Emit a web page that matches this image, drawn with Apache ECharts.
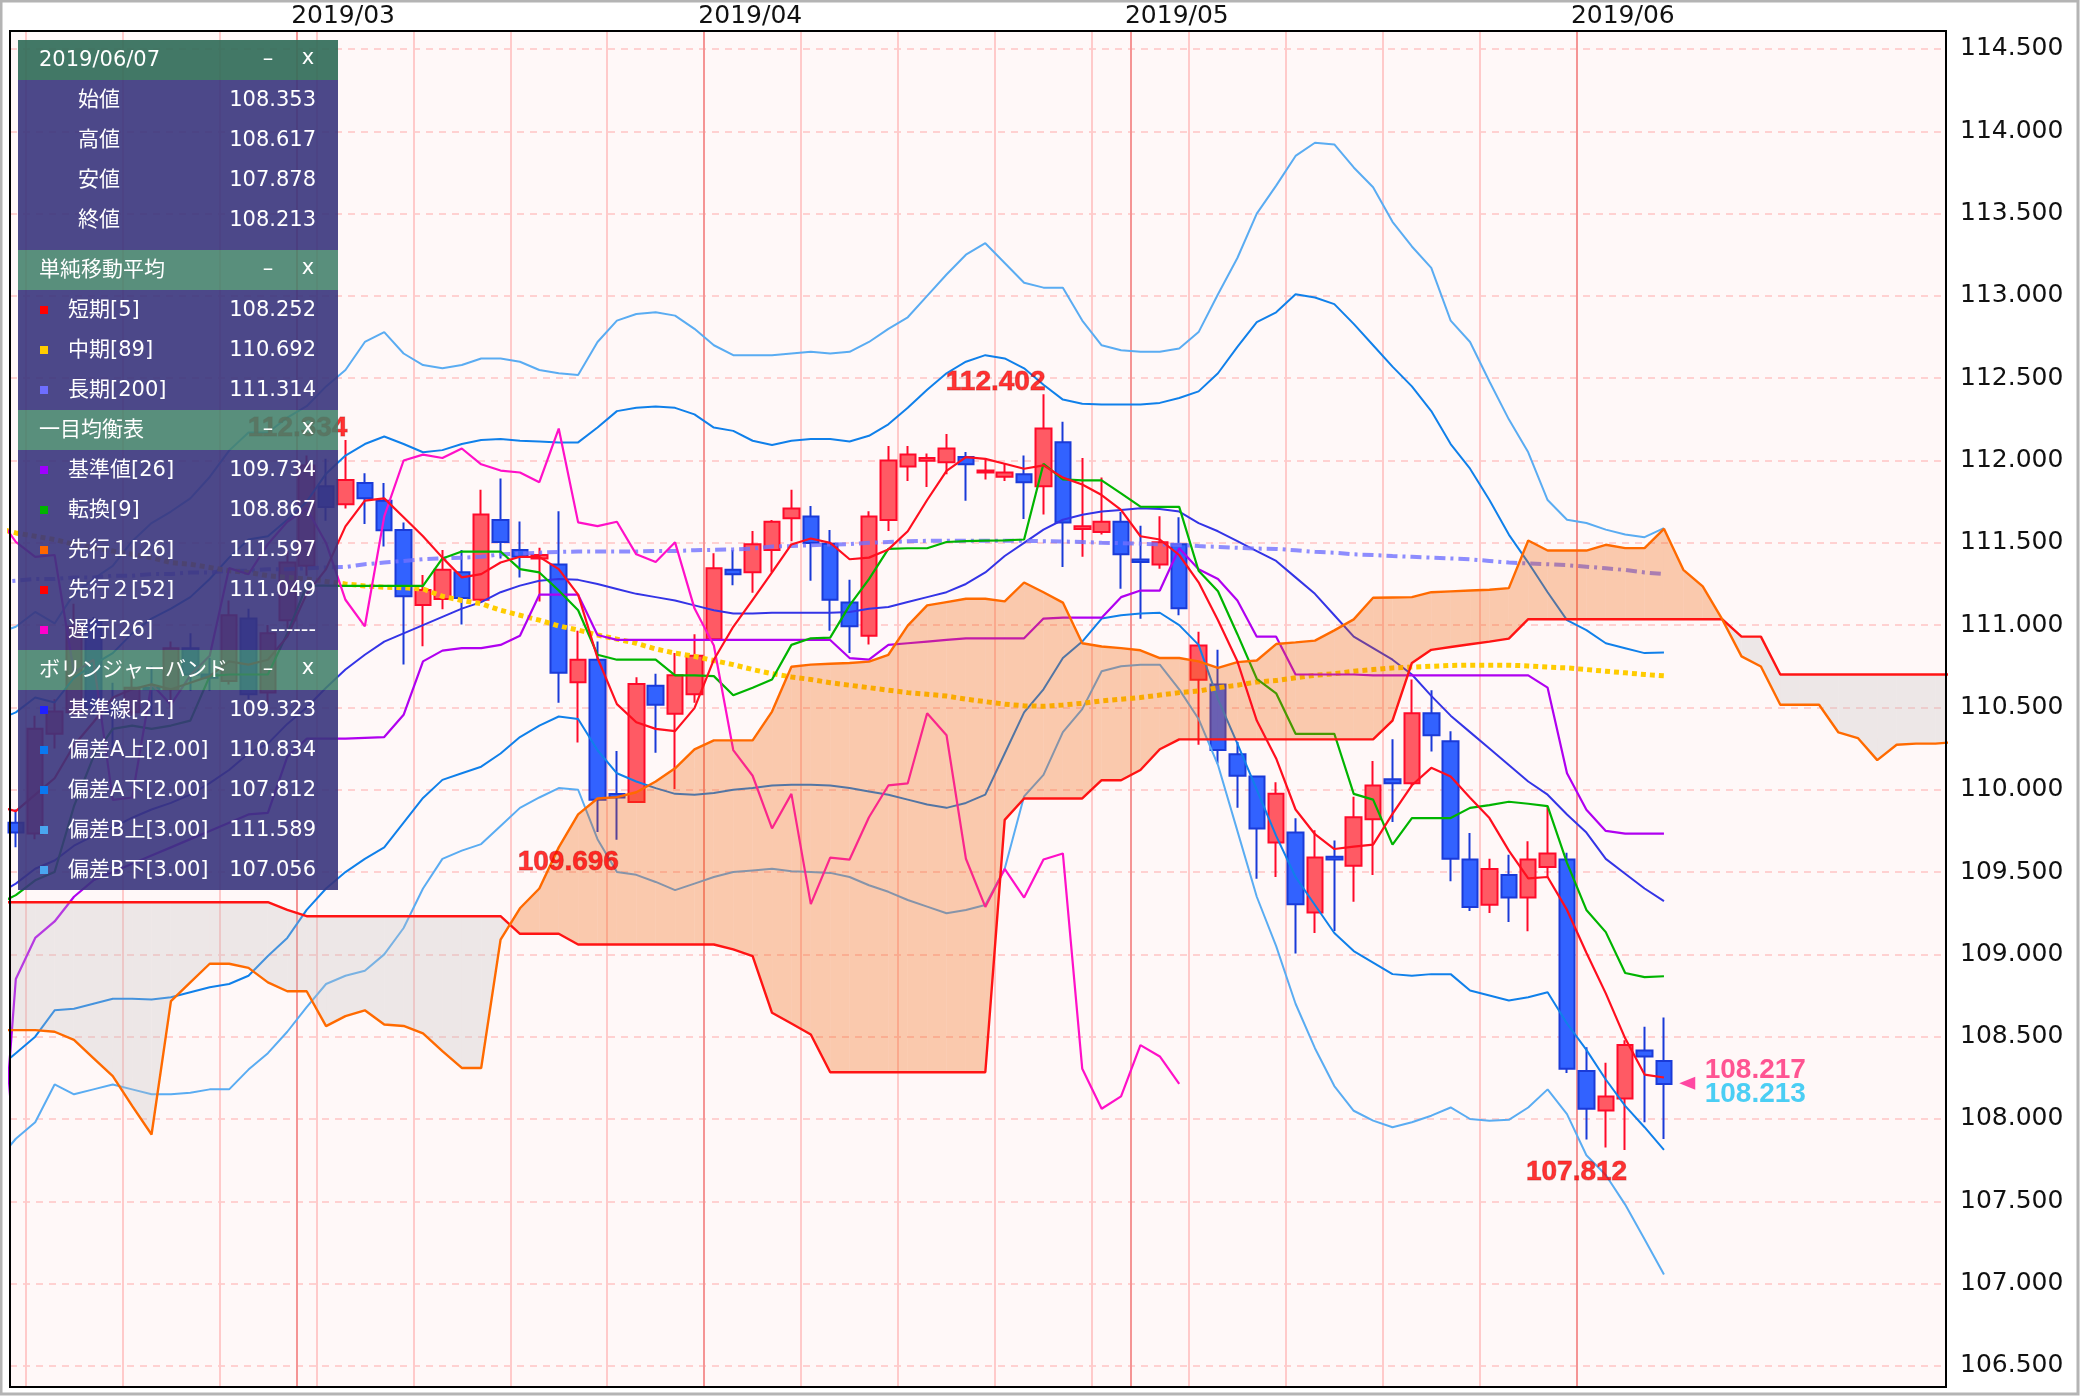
<!DOCTYPE html>
<html><head><meta charset="utf-8">
<script src="https://cdn.jsdelivr.net/npm/echarts@6.0.0/dist/echarts.min.js"></script>
<style>html,body{margin:0;padding:0;background:#fff}#c{width:2080px;height:1396px}</style>
</head><body><div id="c"></div>
<script>
// ---------- DATA (x = trading-day index, 0 = 2019/02/08, 85 = 2019/06/07) ----------
// candles: [open, close, low, high], k = 0..85
const candles = [
 [109.800,109.740,109.650,109.880],[109.734,110.371,109.700,110.450],[110.340,110.475,110.250,110.550],[110.470,110.990,110.450,111.130],[111.030,110.500,110.450,111.050],
 [110.480,110.470,110.250,110.650],[110.470,110.620,110.450,110.700],[110.620,110.610,110.450,110.750],[110.610,110.860,110.500,110.900],[110.860,110.700,110.600,110.950],
 [110.700,110.680,110.600,110.800],[110.660,111.060,110.640,111.150],[111.040,110.580,110.550,111.100],[110.590,110.950,110.500,111.000],[111.030,111.380,110.980,111.450],
 [111.360,111.970,111.300,112.030],[111.843,111.718,111.634,112.010],[111.735,111.881,111.708,112.125],[111.864,111.770,111.614,111.923],[111.756,111.576,111.478,111.864],
 [111.578,111.175,110.761,111.624],[111.123,111.213,110.872,111.304],[111.158,111.336,111.096,111.457],[111.321,111.165,111.004,111.457],[111.154,111.672,111.140,111.822],
 [111.639,111.505,111.405,111.891],[111.457,111.415,111.290,111.630],[111.405,111.426,111.144,111.470],[111.369,110.711,110.528,111.691],[110.653,110.789,110.287,110.966],
 [110.789,109.939,109.744,110.900],[109.974,109.953,109.696,110.235],[109.926,110.642,109.926,110.684],[110.632,110.517,110.225,110.705],[110.461,110.695,110.005,110.830],
 [110.580,110.814,110.528,110.945],[110.914,111.346,110.904,111.436],[111.336,111.309,111.242,111.457],[111.321,111.492,111.196,111.572],[111.457,111.628,111.321,111.639],
 [111.649,111.708,111.509,111.822],[111.660,111.499,111.269,111.724],[111.495,111.154,110.966,111.578],[111.137,110.993,110.830,111.275],[110.935,111.660,110.883,111.691],
 [111.639,112.000,111.572,112.088],[111.964,112.036,111.875,112.088],[111.998,112.015,111.839,112.042],[111.990,112.073,111.916,112.161],[112.021,111.977,111.756,112.052],
 [111.927,111.939,111.885,112.006],[111.902,111.927,111.875,111.979],[111.916,111.868,111.645,112.031],[111.843,112.194,111.672,112.402],[112.111,111.624,111.353,112.236],
 [111.584,111.601,111.415,112.015],[111.566,111.628,111.551,111.896],[111.628,111.430,111.221,111.687],[111.398,111.384,111.039,111.603],[111.369,111.503,111.342,111.662],
 [111.492,111.102,111.060,111.655],[110.668,110.876,110.273,110.960],[110.640,110.241,110.160,110.850],[110.215,110.085,109.890,110.290],[110.080,109.765,109.460,110.085],
 [109.680,109.975,109.470,110.045],[109.740,109.305,109.006,109.827],[109.254,109.588,109.130,109.754],[109.593,109.576,109.142,109.692],[109.539,109.833,109.320,109.957],
 [109.821,110.026,109.482,110.175],[110.064,110.039,109.804,110.306],[110.039,110.465,110.026,110.670],[110.465,110.331,110.232,110.604],[110.294,109.581,109.444,110.356],
 [109.576,109.288,109.264,109.737],[109.301,109.519,109.251,109.581],[109.482,109.345,109.197,109.605],[109.345,109.576,109.140,109.687],[109.531,109.613,109.469,109.898],
 [109.576,108.305,108.280,109.618],[108.292,108.062,107.876,108.436],[108.052,108.137,107.827,108.342],[108.124,108.449,107.812,108.478],[108.416,108.380,107.980,108.560],
 [108.353,108.213,107.878,108.617]
];
// indicator lines, k = -1..85
const sma5 = [
 109.90,109.87,109.97,110.07,110.27,110.41,110.56,110.61,110.64,110.61,
 110.65,110.69,110.78,110.76,110.79,110.93,111.19,111.34,111.60,111.756,
 111.77,111.655,111.54,111.41,111.29,111.31,111.38,111.415,111.415,111.34,
 111.185,110.80,110.52,110.41,110.37,110.356,110.496,110.79,110.99,111.154,
 111.32,111.49,111.526,111.50,111.40,111.41,111.46,111.57,111.76,111.937,
 112.02,112.01,111.98,111.95,111.97,111.896,111.854,111.79,111.70,111.54,
 111.52,111.426,111.26,111.03,110.78,110.42,110.19,109.88,109.73,109.64,
 109.655,109.667,109.853,110.027,110.133,110.081,109.952,109.828,109.63,109.462,
 109.47,109.27,109.01,108.763,108.49,108.27,108.252];
const sma89 = [
 111.59,111.56,111.54,111.52,111.49,111.47,111.45,111.43,111.41,111.38,
 111.37,111.35,111.33,111.32,111.30,111.29,111.28,111.265,111.25,111.238,
 111.23,111.227,111.22,111.175,111.15,111.13,111.09,111.06,111.03,110.995,
 110.97,110.94,110.915,110.89,110.855,110.83,110.81,110.785,110.76,110.73,
 110.705,110.685,110.67,110.65,110.635,110.62,110.605,110.59,110.58,110.569,
 110.55,110.535,110.52,110.51,110.507,110.515,110.525,110.54,110.55,110.56,
 110.575,110.59,110.60,110.62,110.635,110.655,110.663,110.68,110.695,110.705,
 110.72,110.73,110.74,110.745,110.75,110.755,110.757,110.757,110.757,110.752,
 110.745,110.74,110.73,110.72,110.71,110.70,110.692];
const sma200 = [
 111.26,111.27,111.28,111.28,111.29,111.29,111.30,111.30,111.31,111.31,
 111.32,111.32,111.33,111.33,111.34,111.34,111.345,111.35,111.353,111.37,
 111.38,111.39,111.40,111.405,111.41,111.415,111.43,111.435,111.44,111.445,
 111.447,111.447,111.447,111.447,111.45,111.45,111.455,111.457,111.46,111.465,
 111.478,111.48,111.485,111.49,111.492,111.50,111.505,111.51,111.512,111.513,
 111.513,111.513,111.513,111.512,111.51,111.508,111.505,111.50,111.498,111.495,
 111.49,111.488,111.48,111.475,111.47,111.465,111.463,111.455,111.445,111.44,
 111.43,111.426,111.42,111.415,111.41,111.405,111.40,111.39,111.38,111.375,
 111.37,111.364,111.355,111.345,111.335,111.32,111.31];
const kijun = [
 107.30,108.85,109.10,109.20,109.35,109.45,109.50,109.55,109.60,109.65,
 109.70,109.75,109.80,109.85,109.86,110.20,110.31,110.31,110.31,110.315,
 110.32,110.455,110.78,110.845,110.86,110.86,110.88,110.935,111.185,111.185,
 111.185,110.94,110.91,110.91,110.91,110.91,110.91,110.91,110.91,110.91,
 110.91,110.91,110.91,110.91,110.80,110.79,110.88,110.89,110.90,110.91,
 110.92,110.92,110.92,110.92,111.04,111.045,111.045,111.045,111.17,111.21,
 111.21,111.467,111.34,111.28,111.15,110.93,110.93,110.70,110.70,110.70,
 110.70,110.695,110.695,110.695,110.695,110.695,110.695,110.695,110.695,110.695,
 110.62,110.10,109.878,109.75,109.734,109.734,109.734];
const tenkan = [
 109.30,109.36,109.45,109.50,109.90,110.20,110.37,110.39,110.37,110.39,
 110.42,110.69,110.70,110.70,110.70,110.95,111.24,111.24,111.238,111.238,
 111.238,111.238,111.238,111.405,111.447,111.447,111.447,111.34,111.32,111.21,
 111.09,110.82,110.79,110.79,110.79,110.695,110.695,110.69,110.574,110.62,
 110.67,110.88,110.92,110.924,111.12,111.28,111.463,111.467,111.467,111.505,
 111.51,111.513,111.515,111.52,111.98,111.885,111.879,111.879,111.80,111.72,
 111.718,111.718,111.33,111.206,110.945,110.674,110.586,110.34,110.34,110.34,
 109.975,109.94,109.667,109.828,109.828,109.828,109.89,109.907,109.927,109.915,
 109.90,109.556,109.27,109.135,108.887,108.862,108.867];
const bbMid = [
 109.36,109.43,109.52,109.57,109.66,109.72,109.77,109.83,109.88,109.92,
 109.97,110.04,110.12,110.22,110.28,110.40,110.50,110.62,110.73,110.82,
 110.90,110.95,111.00,111.05,111.10,111.14,111.20,111.24,111.27,111.28,
 111.275,111.25,111.22,111.19,111.17,111.15,111.12,111.09,111.07,111.07,
 111.075,111.075,111.075,111.075,111.08,111.10,111.11,111.14,111.17,111.20,
 111.25,111.32,111.42,111.50,111.58,111.64,111.67,111.69,111.70,111.71,
 111.705,111.69,111.62,111.57,111.51,111.45,111.39,111.29,111.19,111.06,
 110.93,110.86,110.79,110.70,110.57,110.45,110.35,110.25,110.15,110.05,
 109.97,109.85,109.74,109.58,109.49,109.40,109.323];
const bbU2 = [
 110.42,110.47,110.56,110.53,110.68,110.76,110.83,110.95,111.04,111.10,
 111.17,111.28,111.41,111.52,111.54,111.64,111.75,111.92,112.03,112.10,
 112.146,112.10,112.05,112.063,112.10,112.125,112.13,112.12,112.115,112.11,
 112.11,112.20,112.30,112.32,112.328,112.32,112.28,112.20,112.18,112.12,
 112.094,112.12,112.13,112.13,112.115,112.15,112.22,112.32,112.43,112.53,
 112.60,112.64,112.62,112.56,112.46,112.37,112.345,112.34,112.34,112.34,
 112.35,112.38,112.42,112.53,112.69,112.84,112.90,113.01,112.99,112.95,
 112.83,112.70,112.57,112.45,112.30,112.10,111.95,111.76,111.55,111.38,
 111.20,111.03,110.97,110.89,110.86,110.83,110.834];
const bbL2 = [
 108.30,108.40,108.50,108.66,108.67,108.70,108.73,108.73,108.726,108.74,
 108.77,108.80,108.82,108.87,108.99,109.10,109.27,109.40,109.50,109.58,
 109.65,109.80,109.95,110.06,110.10,110.14,110.22,110.32,110.39,110.445,
 110.43,110.24,110.10,110.05,110.01,109.975,109.97,109.98,110.00,110.01,
 110.026,110.03,110.03,110.026,110.01,109.99,109.97,109.94,109.91,109.89,
 109.92,109.97,110.22,110.47,110.61,110.80,110.90,111.04,111.06,111.07,
 111.075,111.00,110.88,110.55,110.28,110.00,109.72,109.47,109.30,109.13,
 109.02,108.95,108.88,108.87,108.88,108.88,108.78,108.75,108.72,108.74,
 108.77,108.58,108.42,108.24,108.08,107.95,107.812];
const bbU3 = [
 110.95,110.99,111.08,111.01,111.19,111.28,111.36,111.51,111.62,111.69,
 111.77,111.90,112.06,112.17,112.17,112.26,112.33,112.45,112.55,112.72,
 112.78,112.65,112.58,112.56,112.58,112.62,112.62,112.60,112.55,112.53,
 112.52,112.72,112.85,112.89,112.90,112.88,112.80,112.70,112.64,112.64,
 112.64,112.65,112.66,112.65,112.66,112.72,112.80,112.87,113.00,113.13,
 113.25,113.32,113.20,113.08,113.05,113.05,112.85,112.70,112.67,112.66,
 112.66,112.68,112.78,113.01,113.23,113.50,113.67,113.85,113.93,113.92,
 113.78,113.66,113.45,113.30,113.17,112.85,112.72,112.48,112.25,112.05,
 111.76,111.64,111.62,111.58,111.55,111.534,111.589];
const bbL3 = [
 107.74,107.88,107.98,108.21,108.15,108.18,108.21,108.18,108.15,108.15,
 108.16,108.18,108.18,108.30,108.40,108.53,108.68,108.82,108.87,108.90,
 109.00,109.16,109.40,109.58,109.63,109.67,109.78,109.89,109.953,110.01,
 110.00,109.70,109.50,109.483,109.44,109.39,109.43,109.47,109.50,109.51,
 109.52,109.505,109.50,109.495,109.47,109.42,109.38,109.33,109.29,109.25,
 109.27,109.30,109.52,109.96,110.09,110.35,110.49,110.72,110.75,110.76,
 110.76,110.61,110.43,110.15,109.75,109.35,109.05,108.70,108.43,108.20,
 108.05,107.99,107.95,107.98,108.02,108.07,108.00,107.99,107.995,108.07,
 108.18,108.03,107.78,107.66,107.48,107.27,107.056];
// leading spans (already shifted forward), k = -1..100
const spanA = [
 108.54,108.54,108.54,108.53,108.48,108.37,108.26,108.08,107.906,108.716,
 108.83,108.943,108.943,108.918,108.83,108.776,108.776,108.564,108.625,108.66,
 108.574,108.565,108.52,108.412,108.31,108.31,109.09,109.28,109.40,109.65,
 109.85,109.947,109.955,109.985,110.05,110.13,110.245,110.30,110.30,110.30,
 110.475,110.747,110.76,110.765,110.77,110.778,110.82,110.997,111.12,111.14,
 111.16,111.16,111.144,111.259,111.20,111.137,110.89,110.87,110.86,110.847,
 110.80,110.80,110.78,110.74,110.775,110.785,110.885,110.895,110.906,110.968,
 111.035,111.166,111.168,111.17,111.20,111.205,111.21,111.215,111.225,111.514,
 111.453,111.453,111.453,111.488,111.468,111.468,111.585,111.336,111.235,111.036,
 110.81,110.749,110.516,110.516,110.516,110.348,110.314,110.18,110.273,110.28,
 110.28,110.29];
const spanB = [
 109.317,109.317,109.317,109.317,109.317,109.317,109.317,109.317,109.317,109.317,
 109.317,109.317,109.317,109.317,109.317,109.27,109.232,109.232,109.232,109.232,
 109.232,109.232,109.232,109.232,109.232,109.232,109.232,109.125,109.125,109.125,
 109.06,109.06,109.06,109.06,109.06,109.06,109.06,109.06,109.03,108.99,
 108.645,108.58,108.513,108.284,108.284,108.284,108.284,108.284,108.284,108.284,
 108.284,108.284,109.817,109.947,109.947,109.947,109.947,110.058,110.058,110.12,
 110.246,110.306,110.306,110.306,110.306,110.306,110.306,110.306,110.306,110.306,
 110.306,110.306,110.42,110.77,110.85,110.867,110.884,110.90,110.918,111.036,
 111.036,111.036,111.036,111.036,111.036,111.036,111.036,111.036,111.036,111.036,
 110.93,110.93,110.70,110.70,110.70,110.70,110.70,110.70,110.70,110.70,
 110.70,110.70];
const CHIKOU_SHIFT = 25;
// axis / labels
const monthTicks = [14.5, 35.5, 57.5, 80.5];
const monthNames = ['2019/03', '2019/04', '2019/05', '2019/06'];
const weekTicks = [0.5,5.5,10.5,15.5,20.5,25.5,30.5,35.5,40.5,45.5,50.5,55.5,60.5,65.5,70.5,75.5,80.5];
const extremeLabels = [
  {k:53, v:112.402, text:'112.402', above:true},
  {k:31, v:109.696, text:'109.696', above:false},
  {k:83, v:107.812, text:'107.812', above:false},
  {k:17, v:112.125, text:'112.334', above:true}
];
const lastBid = 108.217, lastClose = 108.213, lastMarkK = 86.2, lastLabelK = 87.1;
// panel texts
const panelDate = '2019/06/07';
const ohlcNames = ['始値','高値','安値','終値'];
const ohlcVals = ['108.353','108.617','107.878','108.213'];
const smaNames = ['短期[5]','中期[89]','長期[200]'];
const smaVals = ['108.252','110.692','111.314'];
const smaColors = ['#ff0000','#ffcc00','#6e6eff'];
const ichiNames = ['基準値[26]','転換[9]','先行１[26]','先行２[52]','遅行[26]'];
const ichiVals = ['109.734','108.867','111.597','111.049','------'];
const ichiColors = ['#a000ff','#00b400','#ff6600','#ff0000','#ff00cc'];
const bbNames = ['基準線[21]','偏差A上[2.00]','偏差A下[2.00]','偏差B上[3.00]','偏差B下[3.00]'];
const bbVals = ['109.323','110.834','107.812','111.589','107.056'];
const bbColors = ['#2020ff','#0a78f0','#0a78f0','#4aa6f0','#4aa6f0'];

// ---------- BUILD ----------
const xy = (arr, start) => arr.map((v, i) => [start + i, v]);
const candleData = candles.map((d, i) => [i, d[0], d[1], d[2], d[3]]);
const chikouData = candles.map((d, i) => [i - CHIKOU_SHIFT, d[1]]).filter(p => p[0] >= -1);
const cloudData = [];
for (let i = 0; i < spanA.length - 1; i++) cloudData.push([i - 1, spanA[i], spanB[i], spanA[i + 1], spanB[i + 1]]);
const monthLabelAt = monthTicks.map(v => v - 0.3);

const ORANGE_FILL = 'rgba(240,92,0,0.30)';
const GRAY_FILL = 'rgba(196,192,192,0.30)';

function lineSeries(name, data, color, width, z, type, extra) {
  return Object.assign({
    name, type: 'line', data, z, showSymbol: false, symbol: 'none', silent: true,
    animation: false, lineStyle: { color, width, type: type || 'solid' }
  }, extra || {});
}

const FONT_AX = 'DejaVu Sans';
const series = [
  { type: 'line', data: [[0, 110]], z: 1, symbol: 'none', lineStyle: { opacity: 0 }, silent: true,
    markLine: { z: 1, silent: true, symbol: ['none', 'none'], label: { show: false }, animation: false,
      data: weekTicks.map(x => ({ xAxis: x, lineStyle: { color: '#ffcaca', width: 2, type: 'solid' } }))
        .concat(monthTicks.map(x => ({ xAxis: x, lineStyle: { color: '#f59494', width: 2, type: 'solid' } }))) } },
  { type: 'candlestick', data: candleData, z: 2, barWidth: 16, animation: false, silent: true,
    itemStyle: { color: '#ff5a64', color0: '#3262ff', borderColor: '#ff0a2a', borderColor0: '#1a3ad8', borderWidth: 2 } },
  lineSeries('bbU3', xy(bbU3, -1), '#5aacf2', 2, 3),
  lineSeries('bbL3', xy(bbL3, -1), '#5aacf2', 2, 3),
  lineSeries('bbU2', xy(bbU2, -1), '#1080ea', 2, 3),
  lineSeries('bbL2', xy(bbL2, -1), '#1080ea', 2, 3),
  lineSeries('bbMid', xy(bbMid, -1), '#3434e6', 2, 3),
  lineSeries('sma200', xy(sma200, -1), 'rgba(112,112,255,0.8)', 4, 3, [11, 5, 3, 5]),
  lineSeries('sma89', xy(sma89, -1), '#ffcc00', 5, 3, [5, 4]),
  lineSeries('kijun', xy(kijun, -1), '#b000f0', 2.2, 3),
  lineSeries('tenkan', xy(tenkan, -1), '#00b400', 2.2, 3),
  lineSeries('chikou', chikouData, '#ff10c8', 2.2, 3),
  { type: 'custom', z: 4, silent: true, animation: false, clip: true, data: cloudData,
    encode: { x: 0, y: [1, 2] },
    renderItem: function (params, api) {
      const k = api.value(0), a0 = api.value(1), b0 = api.value(2), a1 = api.value(3), b1 = api.value(4);
      const cs = params.coordSys;
      const P = (x, y) => api.coord([x, y]);
      const d0 = a0 - b0, d1 = a1 - b1;
      const polys = [];
      if (d0 * d1 < 0) {
        const t = d0 / (d0 - d1);
        const xc = k + t, yc = a0 + t * (a1 - a0);
        polys.push({ pts: [P(k, a0), P(xc, yc), P(k, b0)], up: d0 > 0 });
        polys.push({ pts: [P(xc, yc), P(k + 1, a1), P(k + 1, b1)], up: d1 > 0 });
      } else {
        polys.push({ pts: [P(k, a0), P(k + 1, a1), P(k + 1, b1), P(k, b0)], up: (d0 + d1) > 0 });
      }
      return { type: 'group', children: polys.map(p => ({
        type: 'polygon',
        shape: { points: echarts.graphic.clipPointsByRect(p.pts, { x: cs.x, y: cs.y, width: cs.width, height: cs.height }) },
        style: { fill: p.up ? ORANGE_FILL : GRAY_FILL, stroke: null }
      })) };
    } },
  lineSeries('spanB', xy(spanB, -1), '#ff1414', 2.4, 5),
  lineSeries('spanA', xy(spanA, -1), '#ff6a00', 2.4, 5),
  lineSeries('sma5', xy(sma5, -1), '#ff0f1f', 2.2, 5),
  { type: 'scatter', z: 6, silent: true, animation: false, symbolSize: 0,
    data: extremeLabels.map(e => ({ value: [e.k, e.v], label: {
      show: true, formatter: e.text, position: [0, 0], align: 'right',
      verticalAlign: e.above ? 'bottom' : 'top', offset: [2, e.above ? 2 : 8],
      color: '#ff0000', fontSize: 28, fontWeight: 'bold', fontFamily: 'Liberation Sans',
      textBorderColor: 'rgba(140,0,0,0.55)', textBorderWidth: 1 } })) },
  { type: 'scatter', z: 6, silent: true, animation: false,
    data: [
      { value: [lastMarkK, lastBid], symbol: 'triangle', symbolRotate: 90, symbolSize: [13, 16], itemStyle: { color: '#ff1a8c' } },
      { value: [lastLabelK, lastBid], symbolSize: 0, label: { show: true, formatter: lastBid.toFixed(3), position: [0, 0], align: 'left', verticalAlign: 'middle', offset: [0, -13], color: '#ff2a78', fontSize: 28, fontWeight: 'bold', fontFamily: 'Liberation Sans' } },
      { value: [lastLabelK, lastClose], symbolSize: 0, label: { show: true, formatter: lastClose.toFixed(3), position: [0, 0], align: 'left', verticalAlign: 'middle', offset: [0, 10], color: '#1ec3f2', fontSize: 28, fontWeight: 'bold', fontFamily: 'Liberation Sans' } }
    ] }
];

// ---------- PANEL (graphic overlay) ----------
const PX = 18, PW = 320, FONT_P = "21px 'DejaVu Sans','Noto Sans CJK JP',sans-serif";
const sections = [
  { title: panelDate, top: 40, bodyH: 170, names: ohlcNames, vals: ohlcVals, colors: null, hdr: 'rgba(52,110,90,0.93)' },
  { title: '単純移動平均', top: 250, bodyH: 120, names: smaNames, vals: smaVals, colors: smaColors, hdr: 'rgba(66,128,106,0.88)' },
  { title: '一目均衡表', top: 410, bodyH: 200, names: ichiNames, vals: ichiVals, colors: ichiColors, hdr: 'rgba(66,128,106,0.88)' },
  { title: 'ボリンジャーバンド', top: 650, bodyH: 200, names: bbNames, vals: bbVals, colors: bbColors, hdr: 'rgba(66,128,106,0.88)' }
];
const g = [];
// plot frame drawn on top of the plot content
g.push({ type: 'rect', z: 90, silent: true, shape: { x: 10, y: 31, width: 1936, height: 1356 }, style: { fill: 'none', stroke: '#000', lineWidth: 2 } });
const txt = (x, y, text, align) => ({ type: 'text', x, y, z: 101, silent: true,
  style: { text, fill: '#ffffff', font: FONT_P, align: align || 'left', verticalAlign: 'middle', textAlign: align || 'left', textVerticalAlign: 'middle' } });
sections.forEach(s => {
  g.push({ type: 'rect', z: 100, silent: true, shape: { x: PX, y: s.top, width: PW, height: 40 }, style: { fill: s.hdr } });
  g.push({ type: 'rect', z: 100, silent: true, shape: { x: PX, y: s.top + 40, width: PW, height: s.bodyH }, style: { fill: 'rgba(56,52,124,0.9)' } });
  g.push(txt(39, s.top + 21, s.title));
  g.push(txt(268, s.top + 20, '–', 'center'));
  g.push(txt(308, s.top + 19, 'x', 'center'));
  s.names.forEach((n, i) => {
    const y = s.top + 60 + 40 * i;
    if (s.colors) g.push({ type: 'rect', z: 101, silent: true, shape: { x: 40, y: y - 4, width: 8, height: 8 }, style: { fill: s.colors[i] } });
    g.push(txt(s.colors ? 68 : 78, y + 1, n));
    g.push(txt(316, y + 1, s.vals[i], 'right'));
  });
});
g.push({ type: 'rect', z: 102, silent: true, shape: { x: 1, y: 1, width: 2077, height: 1393 }, style: { fill: 'none', stroke: '#b4b4b4', lineWidth: 3 } });

const chart = echarts.init(document.getElementById('c'), null, { renderer: 'canvas' });
chart.setOption({
  backgroundColor: '#ffffff',
  animation: false,
  grid: { left: 10, right: 134, top: 31, bottom: 9, show: true, backgroundColor: '#fff8f8', borderColor: '#000', borderWidth: 2, z: 0 },
  xAxis: { type: 'value', position: 'top', min: -0.3, max: 99.546,
    axisLine: { show: false }, axisTick: { show: false }, splitLine: { show: false },
    axisLabel: { customValues: monthLabelAt, formatter: v => { const i = monthLabelAt.indexOf(v); return i >= 0 ? monthNames[i] : ''; },
      align: 'left', margin: 2, fontSize: 25, fontFamily: FONT_AX, color: '#111' } },
  yAxis: { type: 'value', position: 'right', min: 106.372, max: 114.609, minInterval: 0.5, maxInterval: 0.5, splitNumber: 16,
    axisLine: { show: false }, axisTick: { show: false },
    axisLabel: { margin: 14, fontSize: 25, fontFamily: FONT_AX, color: '#111', showMinLabel: false, showMaxLabel: false,
      formatter: v => (Math.abs(v * 2 - Math.round(v * 2)) < 1e-6 ? v.toFixed(3) : '') },
    splitLine: { showMinLine: false, showMaxLine: false, lineStyle: { color: '#ffc4c4', type: [7, 6], width: 1.5 } } },
  series,
  graphic: { elements: g }
});
</script></body></html>
